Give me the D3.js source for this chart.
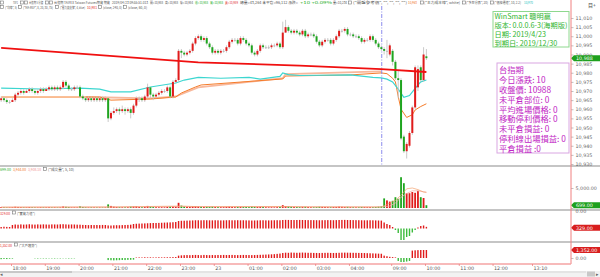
<!DOCTYPE html>
<html>
<head>
<meta charset="utf-8">
<script src="https://cdn.jsdelivr.net/npm/d3@7"></script>
<style>
  body { margin: 0; background: #fff; }
  svg { display: block; font-family: "Noto Sans CJK TC", "Noto Sans", sans-serif; }
</style>
</head>
<body>
<svg id="chart" width="600" height="277"></svg>
<script>
// 5 minute bars, night session from 17:40 then day session from 08:45
const open = [
  10965,10966,10965,10964,10964,10965,10968,10969,10970,10969,
  10970,10971,10970,10969,10970,10971,10970,10971,10972,10971,
  10972,10971,10972,10975,10973,10971,10971,10972,10972,10967,
  10966,10965,10966,10965,10966,10965,10966,10965,10966,10955,
  10958,10959,10960,10959,10960,10959,10960,10958,10962,10966,
  10966,10965,10967,10972,10968,10967,10968,10969,10970,10970,
  10972,10967,10975,10976,10992,10991,10990,10991,10992,10996,
  10999,11000,10998,10999,10996,10994,10991,10992,10991,10992,
  10992,10994,10997,10998,10998,10996,10999,10998,10996,10995,
  10991,10990,10992,10995,10994,10994,10994,10995,10995,10996,
  10994,11002,11005,11003,11002,11003,11002,11001,11003,11000,
  11001,11001,11000,10997,10995,10997,10998,10998,10996,10998,
  11000,11003,11003,11004,11001,11001,11000,11000,10999,10997,
  10998,10998,11000,10998,10996,10994,
  10993,10992,10990,10992,10986,10977,10976,10945,10937,10940,10947,10961,10972,10983,10976,10989
];
const close = [
  10966,10965,10964,10964,10965,10968,10969,10970,10969,10970,
  10971,10970,10969,10970,10971,10970,10971,10972,10971,10972,
  10971,10972,10975,10973,10971,10971,10972,10972,10967,10966,
  10965,10966,10965,10966,10965,10966,10965,10966,10955,10958,
  10959,10960,10959,10960,10959,10960,10958,10962,10966,10966,
  10965,10967,10972,10968,10967,10968,10969,10970,10970,10972,
  10967,10975,10976,10992,10991,10990,10991,10992,10996,10999,
  11000,10998,10999,10996,10994,10991,10992,10991,10992,10992,
  10994,10997,10998,10998,10996,10999,10998,10996,10995,10991,
  10990,10992,10995,10994,10994,10994,10995,10995,10996,10994,
  11002,11005,11003,11002,11003,11002,11001,11003,11000,11001,
  11001,11000,10997,10995,10997,10998,10998,10996,10998,11000,
  11003,11003,11004,11001,11001,11000,11000,10999,10997,10998,
  10998,11000,10998,10996,10994,10993,
  10992,10992,10995,10986,10977,10976,10944,10937,10941,10947,10961,10983,10982,10976,10990,10988
];
const high = [
  10967,10967,10966,10965,10966,10969,10970,10971,10971,10971,
  10972,10972,10971,10971,10972,10972,10972,10973,10973,10973,
  10973,10973,10976,10976,10974,10972,10973,10973,10973,10968,
  10967,10967,10967,10967,10967,10967,10967,10967,10966,10959,
  10961,10961,10961,10962,10961,10961,10961,10963,10967,10967,
  10967,10968,10974,10972,10969,10969,10970,10971,10971,10973,
  10973,10976,10977,10993,10993,10992,10992,10993,10997,11000,
  11001,11001,11000,11000,10997,10995,10993,10993,10993,10993,
  10995,10998,10999,10999,10999,11000,11000,10999,10997,10996,
  10992,10993,10996,10996,10995,10995,10996,10996,10997,10997,
  11008,11009,11006,11004,11004,11004,11003,11004,11004,11002,
  11002,11002,11001,10998,10998,10999,10999,10999,10999,11001,
  11004,11004,11005,11005,11002,11002,11001,11001,11000,10999,
  10999,11001,11001,10999,10997,10995,
  10994,10998,10996,10993,10987,10981,10977,10946,10942,10948,10962,10984,10984,10984,10994,10993
];
const low = [
  10964,10964,10963,10963,10964,10964,10967,10968,10968,10969,
  10969,10969,10968,10968,10969,10969,10970,10970,10970,10970,
  10970,10970,10971,10972,10970,10970,10970,10971,10966,10965,
  10964,10964,10964,10964,10964,10964,10964,10964,10953,10954,
  10957,10958,10957,10958,10957,10958,10955,10957,10961,10964,
  10964,10964,10966,10966,10965,10966,10967,10968,10969,10969,
  10966,10966,10974,10975,10988,10989,10989,10990,10991,10995,
  10998,10997,10997,10995,10993,10990,10990,10990,10990,10991,
  10991,10993,10996,10997,10995,10995,10997,10995,10994,10990,
  10989,10989,10991,10993,10993,10993,10993,10994,10994,10993,
  10993,11002,11002,11001,11001,11001,11000,11000,10999,10999,
  11000,10999,10996,10994,10994,10996,10997,10995,10995,10997,
  10999,11002,11002,11000,11000,10999,10999,10998,10996,10996,
  10997,10997,10997,10995,10993,10992,
  10990,10988,10989,10984,10976,10966,10943,10936,10933,10939,10946,10960,10970,10975,10975,10987
];
const volume = [
  220,180,150,160,200,310,260,210,180,170,
  240,190,160,150,200,180,170,210,160,180,
  150,170,380,300,240,160,170,150,420,260,
  190,160,180,170,150,160,150,170,900,520,
  330,260,220,200,190,210,350,380,420,260,
  210,280,520,360,250,210,190,200,180,260,
  380,420,330,1300,600,420,330,280,400,460,
  380,300,260,320,290,340,250,230,210,220,
  280,330,260,220,250,300,240,260,220,350,
  280,240,310,260,200,180,190,170,210,260,
  700,480,380,300,260,240,220,280,300,240,
  200,190,220,310,280,260,220,210,250,260,
  340,300,260,280,230,210,190,200,260,230,
  210,240,220,260,330,400,
  2400,1900,1600,1800,2700,2300,7700,6200,3700,3700,4000,3800,4300,2700,2500,699
];
// 實質力道
const power = [
  300,350,320,300,700,800,760,820,780,800,
  850,800,780,820,790,830,800,780,820,810,
  800,840,860,820,790,810,800,770,760,720,
  700,680,700,690,700,680,710,700,620,600,
  640,660,650,680,700,720,760,900,950,980,
  1000,1020,1050,1080,1100,1100,1120,1150,1180,1200,
  1220,1250,1300,1500,1550,1560,1580,1600,1620,1650,
  1650,1640,1660,1650,1640,1630,1650,1640,1620,1630,
  1650,1660,1640,1650,1660,1640,1650,1630,1620,1600,
  1610,1620,1640,1650,1630,1620,1640,1650,1660,1650,
  1700,1720,1710,1700,1690,1700,1710,1700,1690,1680,
  1680,1670,1660,1650,1660,1670,1680,1670,1660,1680,
  1700,1710,1720,1700,1690,1680,1670,1660,1650,1640,
  1640,1650,1640,1620,1600,1580,
  1200,900,700,300,-300,-900,-2300,-2300,-1700,-1500,-800,-300,200,500,600,329
];
// 大戶趨勢
const bigTrend = [
  -200,-150,-180,-120,-100,0,0,0,0,0,
  0,0,-60,-80,-60,-70,-80,-60,-70,-80,
  -60,-70,-50,-60,-80,-70,-60,0,0,0,
  0,0,0,0,0,0,0,0,-350,-380,
  -400,-380,-360,-340,-350,-320,-300,-280,80,100,
  90,120,100,110,90,100,120,100,110,120,
  130,150,160,400,450,480,500,480,500,520,
  500,480,520,500,480,500,490,510,500,520,
  500,510,520,500,490,500,520,510,500,490,
  500,520,540,560,580,600,620,650,700,750,
  850,900,880,920,900,880,900,920,900,880,
  880,860,850,840,860,870,880,860,850,860,
  880,900,910,900,890,880,870,860,850,840,
  820,800,780,760,740,720,
  400,300,200,150,100,-500,-680,-680,-600,-500,1250,1300,1330,1352,1352,1352
];

// moving-average lines as [bar, value]
const maRed = [[0,10993.6],[35,10989.7],[70,10985.7],[106,10983.9],[135,10982],[151,10980.4]];
const maCyan = [[0,10971.6],[14,10971.1],[28,10971.6],[35,10971],[39,10969.5],[46,10969.5],[53,10972.2],
  [62,10974.4],[65,10976],[70,10977.5],[78,10977],[88,10977.5],[92,10976.5],[99,10978],[100,10979.9],
  [102,10979],[106,10978.5],[124,10978.8],[132,10977.5],[135,10977.2],[137,10976.5],[139,10975],
  [141,10971],[143,10966.5],[145,10967.5],[147,10971.5],[149,10975],[151,10976]];
const maOrange = [[0,10966.7],[35,10966.7],[39,10965],[53,10965.6],[62,10966.7],[64,10968.9],[69,10972.2],
  [71,10973.3],[100,10976.6],[101,10978.2],[124,10978.8],[135,10979.9],[137,10979.5],[139,10977],
  [140,10975],[141,10967],[142,10960],[144,10955.5],[146,10957],[147,10959.6],[149,10961.5],[151,10963]];
const maSalmon = [[30,10966.7],[53,10966],[62,10967],[70,10972],[100,10977],[101,10979.3],[135,10980.8]];
const volMa5 = [[0,200],[40,260],[64,480],[70,330],[100,380],[110,280],[135,260],[137,900],[140,1900],
  [142,3200],[144,4800],[146,5000],[148,4600],[150,4000],[151,3944]];
const volMa10 = [[0,210],[40,240],[64,380],[75,320],[100,320],[120,270],[135,250],[138,500],[140,1200],
  [142,2700],[144,3600],[146,4300],[148,4300],[151,3908]];

const priceTicks = [11010,11005,11000,10995,10990,10985,10980,10975,10970,10965,10960,10955,10950,10945,10940,10935,10930];
const tickClock = ['18:00','19:00','20:00','21:00','22:00','23:00','00:00','01:00','02:00','03:00','04:00','09:00','10:00','11:00','12:00','13:10'];
const tickLabels = ['18:00','19:00','20:00','21:00','22:00','23:00','23','01:00','02:00','03:00','04:00','09:00','10:00','11:00','12:00','13:10'];

const infoLines = ['WinSmart 聰明贏','版本: 0.0.0.6-3(海期版)','日期: 2019/4/23','到期日: 2019/12/30'];
const statusLines = ['台指期','今日漲跌: 10','收盤價: 10988','未平倉部位: 0','平均進場價格: 0','移動停利價格: 0','未平倉損益: 0','停利線出場損益: 0','平倉損益 :0'];

const RED = '#e01b1b', GREEN = '#1fa51f', PINK = '#f5a3a3';
const nightBars = 136;
const axisX = 571;

const svg = d3.select('#chart');

// session minutes: night session counted from 15:00, day session glued on at 05:00
function sessionMin(clock) {
  const [h, m] = clock.split(':').map(Number);
  if (h >= 15) return (h - 15) * 60 + m;
  if (h <= 5) return (h + 9) * 60 + m;
  return 840 + h * 60 + m - 525;
}
const x = d3.scaleLinear().domain([180, 1105]).range([11, 532]);
function barX(i) {
  const t = i < nightBars ? 160 + 5 * i : 840 + 5 * (i - nightBars);
  return x(t + 2.5);
}

const yPrice = d3.scaleLinear().domain([10930, 11010]).range([164, 18]);
const yVol = d3.scaleLinear().domain([0, 5000]).range([208, 188]);
const yPow = d3.scaleLinear().domain([0, 2000]).range([228.5, 218.5]);
const yBig = d3.scaleLinear().domain([0, 1352]).range([258, 250]);

// ---- header lines (tiny text) ----
const header1 = [
  {x: 13, w: 5, t: 'TXF1', c: '#555'},
  {x: 29, w: 14, t: '台指期 5 分鐘', c: '#555'},
  {x: 54, w: 56, t: '台指期 TAIFEX Taiwan Futures期貨 期貨', c: '#555'},
  {x: 112, w: 36, t: '2019/04/23 09:55:51.013', c: '#555'},
  {x: 150, w: 13, t: '開=10,988', c: '#555'},
  {x: 165, w: 13, t: '高=10,988', c: '#555'},
  {x: 180, w: 13, t: '低=10,984', c: '#555'},
  {x: 195, w: 13, t: '收=10,988', c: '#1fae1f'},
  {x: 210, w: 13, t: '買=10,988', c: '#1fae1f'},
  {x: 225, w: 13, t: '賣=10,989', c: '#e03030'},
  {x: 240, w: 58, t: '總量=43,264 未平倉=96,112 漲跌=', c: '#555'},
  {x: 300, w: 32, t: '+10 +0.09%', c: '#1fae1f'},
  {x: 333, w: 14, t: '量=10,234', c: '#555'},
  {x: 353, w: 54, t: '("開盤參考價", "", "", "", "")', c: '#555'},
  {x: 408, w: 9, t: '10,963', c: '#f07020'},
  {x: 424, w: 36, t: '("主力成本線", white)', c: '#555'},
  {x: 466, w: 22, t: '("多空分界", 20)', c: '#555'},
  {x: 494, w: 27, t: '("價格通道", 10, 2.2)', c: '#555'},
  {x: 524, w: 9, t: '10,970', c: '#20c0c0'}
];
const header2 = [
  {x: 5, w: 12, t: '("均線", 5)', c: '#555'},
  {x: 23, w: 30, t: '("MA-RSF", 8, 20, 30, 75)', c: '#555'},
  {x: 60, w: 25, t: '("壓力與支撐", 4, blue)', c: '#555'},
  {x: 87, w: 10, t: '10,981', c: '#e02020'},
  {x: 103, w: 19, t: '(close, 240, 0)', c: '#555'},
  {x: 128, w: 19, t: '(close, 60, 0)', c: '#555'}
];
const icons1 = [0, 20, 24, 45, 49, 348, 420, 462, 490];
const icons2 = [0, 18, 55, 98, 123];

function drawHeader(items, icons, yBase) {
  svg.append('g').selectAll('text').data(items).enter().append('text')
    .attr('x', d => d.x).attr('y', yBase)
    .attr('textLength', d => d.w).attr('lengthAdjust', 'spacingAndGlyphs')
    .attr('font-size', 3.6).attr('fill', d => d.c).text(d => d.t);
  svg.append('g').selectAll('rect').data(icons).enter().append('rect')
    .attr('x', d => d + 0.5).attr('y', yBase - 3.2).attr('width', 3).attr('height', 3)
    .attr('fill', '#fff').attr('stroke', '#777').attr('stroke-width', 0.6);
}
drawHeader(header1, icons1, 4.2);
drawHeader(header2, icons2, 8.8);
svg.append('text').attr('x', 588).attr('y', 6.5).attr('font-size', 5).attr('fill', '#444').text('目+');

// ---- panel separators ----
svg.append('g').selectAll('line').data([166, 210, 242]).enter().append('line')
  .attr('x1', 0).attr('x2', 600).attr('y1', d => d).attr('y2', d => d)
  .attr('stroke', '#b2b2b2').attr('stroke-width', 1.5);

// ---- main price panel ----
const line = d3.line().x(d => barX(d[0]));
const main = svg.append('g');
main.append('path').datum(maSalmon)
  .attr('d', line.y(d => yPrice(d[1])))
  .attr('fill', 'none').attr('stroke', '#f8b89c').attr('stroke-width', 1.8);
main.append('path').datum(maOrange)
  .attr('d', line.y(d => yPrice(d[1])))
  .attr('fill', 'none').attr('stroke', '#f57c2a').attr('stroke-width', 1);
main.append('path').datum(maCyan)
  .attr('d', line.y(d => yPrice(d[1])))
  .attr('fill', 'none').attr('stroke', '#3cd6d0').attr('stroke-width', 1.2);

// session break
main.append('line')
  .attr('x1', x(sessionMin('05:00')) - 1).attr('x2', x(sessionMin('05:00')) - 1)
  .attr('y1', 6).attr('y2', 166)
  .attr('stroke', '#7070e8').attr('stroke-width', 0.8).attr('stroke-dasharray', '4,1.5,1,1.5');

const idx = d3.range(close.length);
main.append('g').selectAll('line').data(idx).enter().append('line')
  .attr('x1', i => barX(i)).attr('x2', i => barX(i))
  .attr('y1', i => yPrice(high[i])).attr('y2', i => yPrice(low[i]))
  .attr('stroke', '#c4c4c4').attr('stroke-width', 0.9);
main.append('g').selectAll('rect').data(idx).enter().append('rect')
  .attr('x', i => barX(i) - 1).attr('width', 2)
  .attr('y', i => yPrice(Math.max(open[i], close[i])))
  .attr('height', i => Math.max(1, Math.abs(yPrice(open[i]) - yPrice(close[i]))))
  .attr('fill', i => close[i] > open[i] ? RED : close[i] < open[i] ? GREEN : '#b8b8b8');

main.append('path').datum(maRed)
  .attr('d', line.y(d => yPrice(d[1])))
  .attr('fill', 'none').attr('stroke', '#f01010').attr('stroke-width', 1.8);

// ---- volume panel ----
const vol = svg.append('g');
vol.append('g').selectAll('rect').data(idx).enter().append('rect')
  .attr('x', i => barX(i) - 0.9).attr('width', 1.8)
  .attr('y', i => yVol(volume[i])).attr('height', i => yVol(0) - yVol(volume[i]))
  .attr('fill', i => close[i] >= open[i] ? RED : GREEN);
vol.append('path').datum(volMa10)
  .attr('d', line.y(d => yVol(d[1])))
  .attr('fill', 'none').attr('stroke', '#f6b0a8').attr('stroke-width', 0.8);
vol.append('path').datum(volMa5)
  .attr('d', line.y(d => yVol(d[1])))
  .attr('fill', 'none').attr('stroke', '#f39a62').attr('stroke-width', 0.8).attr('opacity', 0.8);

// ---- 實質力道 ----
svg.append('g').selectAll('rect').data(idx).enter().append('rect')
  .attr('x', i => barX(i) - 0.7).attr('width', 1.4)
  .attr('y', i => Math.min(yPow(0), yPow(power[i])))
  .attr('height', i => Math.abs(yPow(power[i]) - yPow(0)))
  .attr('fill', i => power[i] >= 0 ? RED : '#3cba3c');

// ---- 大戶趨勢 ----
svg.append('g').selectAll('rect').data(idx).enter().append('rect')
  .attr('x', i => barX(i) - 0.7).attr('width', 1.4)
  .attr('y', i => Math.min(yBig(0), yBig(bigTrend[i])))
  .attr('height', i => Math.abs(yBig(bigTrend[i]) - yBig(0)))
  .attr('fill', i => bigTrend[i] >= 0 ? RED : '#3cba3c');

// panel headers
const panelHeads = [
  {y: 171, parts: [['699.00', '#1fae1f', 11], ['3,944.00', '#f07020', 13], ['3,908.10', '#f09090', 13]], name: '("成交量", 5, 10)', w: 26},
  {y: 214.5, parts: [['329.00', '#e02020', 10]], name: '("實質力道")', w: 18},
  {y: 246.5, parts: [['1,352.00', '#e02020', 12]], name: '("大戶趨勢")', w: 18}
];
panelHeads.forEach(p => {
  let cx = 0;
  p.parts.forEach(([t, c, w]) => {
    svg.append('text').attr('x', cx).attr('y', p.y).attr('font-size', 3.8).attr('fill', c)
      .attr('textLength', w).attr('lengthAdjust', 'spacingAndGlyphs').text(t);
    cx += w + 2;
  });
  svg.append('rect').attr('x', cx + 0.5).attr('y', p.y - 3.5).attr('width', 3).attr('height', 3)
    .attr('fill', '#fff').attr('stroke', '#777').attr('stroke-width', 0.6);
  svg.append('text').attr('x', cx + 5).attr('y', p.y).attr('font-size', 3.8).attr('fill', '#555')
    .attr('textLength', p.w).attr('lengthAdjust', 'spacingAndGlyphs').text(p.name);
});

// ---- right axes ----
function styleAxis(g) {
  g.select('.domain').remove();
  g.selectAll('.tick line').attr('stroke', '#999').attr('stroke-width', 0.6);
  g.selectAll('.tick text').attr('font-size', 4.8).attr('fill', '#666').attr('x', 4.5)
    .attr('font-family', 'DejaVu Sans, sans-serif');
}
svg.append('g').attr('transform', `translate(${axisX},0)`)
  .call(d3.axisRight(yPrice).tickValues(priceTicks).tickSize(2.5).tickFormat(d3.format(',')))
  .call(styleAxis);
svg.append('g').attr('transform', `translate(${axisX},0)`)
  .call(d3.axisRight(yVol).tickValues([0, 5000]).tickSize(2.5).tickFormat(d3.format(',.2f')))
  .call(styleAxis)
  .selectAll('.tick text').attr('dy', d => d === 0 ? '0.9em' : '0.32em');
svg.append('g').attr('transform', `translate(${axisX},0)`)
  .call(d3.axisRight(yBig).tickValues([0]).tickSize(2.5).tickFormat(d3.format(',.2f')))
  .call(styleAxis);

// value tags
const tags = [
  {y: yPrice(close[close.length - 1]), t: d3.format(',')(close[close.length - 1]), c: '#1ea01e'},
  {y: yVol(volume[volume.length - 1]), t: d3.format(',.2f')(volume[volume.length - 1]), c: '#1ea01e'},
  {y: yPow(power[power.length - 1]) + 1, t: d3.format(',.2f')(power[power.length - 1]), c: '#d81e1e'},
  {y: yBig(bigTrend[bigTrend.length - 1]), t: d3.format(',.2f')(bigTrend[bigTrend.length - 1]), c: '#d81e1e'}
];
const tagG = svg.append('g').selectAll('g').data(tags).enter().append('g');
tagG.append('path')
  .attr('d', d => `M${axisX},${d.y} L${axisX + 3},${d.y - 3} L600,${d.y - 3} L600,${d.y + 3} L${axisX + 3},${d.y + 3} Z`)
  .attr('fill', d => d.c);
tagG.append('text').attr('x', axisX + 5).attr('y', d => d.y + 1.7)
  .attr('font-size', 4.8).attr('fill', '#fff').attr('font-family', 'DejaVu Sans, sans-serif').text(d => d.t);

svg.append('line').attr('x1', axisX).attr('x2', axisX).attr('y1', 0).attr('y2', 264)
  .attr('stroke', '#f08080').attr('stroke-width', 1);

// ---- time axis ----
const xAxisG = svg.append('g').attr('transform', 'translate(0,264)')
  .call(d3.axisBottom(x).tickValues(tickClock.map(sessionMin)).tickSize(1.5).tickFormat((d, i) => tickLabels[i]));
xAxisG.select('.domain').remove();
xAxisG.selectAll('.tick line').attr('stroke', '#e04040');
xAxisG.selectAll('.tick text').attr('font-size', 4.8).attr('fill', '#555')
  .attr('text-anchor', 'start').attr('x', 1).attr('y', 3).attr('font-family', 'DejaVu Sans, sans-serif');
svg.append('line').attr('x1', 0).attr('x2', axisX).attr('y1', 264).attr('y2', 264)
  .attr('stroke', PINK).attr('stroke-width', 1.5);

// scroll bar
svg.append('rect').attr('x', 0).attr('y', 271).attr('width', 600).attr('height', 6).attr('fill', '#f2f2f2');
svg.append('line').attr('x1', 0).attr('x2', 72).attr('y1', 272).attr('y2', 272).attr('stroke', '#888').attr('stroke-width', 0.8);
svg.append('line').attr('x1', 72).attr('x2', 586).attr('y1', 272).attr('y2', 272).attr('stroke', '#cfcfcf').attr('stroke-width', 0.8);
svg.append('rect').attr('x', 587).attr('y', 271.5).attr('width', 8).attr('height', 5).attr('fill', '#c8c8c8');
svg.append('text').attr('x', 0).attr('y', 276).attr('font-size', 5).attr('fill', '#666').text('◂');
svg.append('text').attr('x', 596).attr('y', 276).attr('font-size', 5).attr('fill', '#666').text('▸');

// ---- info boxes ----
const box1 = svg.append('g');
box1.append('rect').attr('x', 493).attr('y', 11.5).attr('width', 76).attr('height', 35.5)
  .attr('fill', '#fff').attr('stroke', '#8ed88e').attr('stroke-width', 1);
box1.selectAll('text').data(infoLines).enter().append('text')
  .attr('x', 494.5).attr('y', (d, i) => 18.8 + i * 9)
  .attr('font-size', 7.2).attr('fill', '#2fb52f').text(d => d);

const box2 = svg.append('g');
box2.append('rect').attr('x', 497).attr('y', 63).attr('width', 72).attr('height', 90)
  .attr('fill', '#fff').attr('stroke', '#d9a6e2').attr('stroke-width', 1);
box2.selectAll('text').data(statusLines).enter().append('text')
  .attr('x', 499).attr('y', (d, i) => 73.3 + i * 9.8)
  .attr('font-size', 8.3).attr('fill', '#bf25c4').text(d => d);
</script>
</body>
</html>
